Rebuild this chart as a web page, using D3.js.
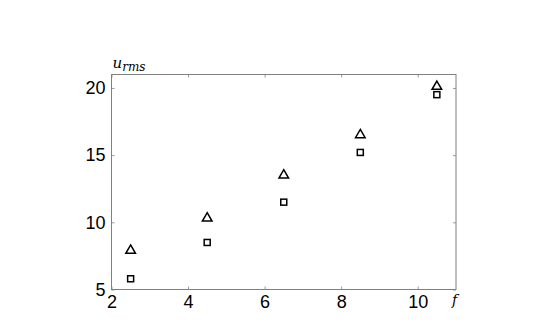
<!DOCTYPE html>
<html>
<head>
<meta charset="utf-8">
<script src="https://cdn.jsdelivr.net/npm/d3@7"></script>
<style>
  body { margin: 0; background: #fff; }
  svg { display: block; }
  .tick text { font-family: "Liberation Sans", Arial, sans-serif; }
</style>
</head>
<body>
<div id="chart"></div>
<script>
var freq = [2.5, 4.5, 6.5, 8.5, 10.5];
var uTriangle = [7.9, 10.3, 13.5, 16.5, 20.1];
var uSquare = [5.8, 8.5, 11.5, 15.2, 19.5];
var xTicks = [2, 4, 6, 8, 10];
var yTicks = [5, 10, 15, 20];

var margin = { top: 74.5, right: 89, bottom: 34.5, left: 111.5 };
var width = 545 - margin.left - margin.right;
var height = 324 - margin.top - margin.bottom;

var svg = d3.select("#chart").append("svg")
    .attr("width", 545)
    .attr("height", 324)
    .append("g")
    .attr("transform", "translate(" + margin.left + "," + margin.top + ")");

var x = d3.scaleLinear().domain([2, 11]).range([0, width]);
var y = d3.scaleLinear().domain([5, 21]).range([height, 0]);

var axisColor = "#808080";

// box + ticks inside
function styleAxis(g, hideText) {
    g.select(".domain").remove();
    g.selectAll(".tick line").attr("stroke", axisColor).attr("stroke-width", 0.8);
    g.selectAll(".tick text").attr("fill", "#000").attr("font-size", 18);
    if (hideText) g.selectAll(".tick text").remove();
}

svg.append("g")
    .attr("transform", "translate(0," + height + ")")
    .call(d3.axisBottom(x).tickValues(xTicks).tickSizeInner(-3).tickSizeOuter(0).tickPadding(6))
    .call(function(g){ styleAxis(g, false); });

svg.append("g")
    .call(d3.axisTop(x).tickValues(xTicks).tickSizeInner(-3).tickSizeOuter(0))
    .call(function(g){ styleAxis(g, true); });

svg.append("g")
    .call(d3.axisLeft(y).tickValues(yTicks).tickSizeInner(-3).tickSizeOuter(0).tickPadding(6))
    .call(function(g){ styleAxis(g, false); });

svg.append("g")
    .attr("transform", "translate(" + width + ",0)")
    .call(d3.axisRight(y).tickValues(yTicks).tickSizeInner(-3).tickSizeOuter(0))
    .call(function(g){ styleAxis(g, true); });

svg.append("rect")
    .attr("x", 0).attr("y", 0)
    .attr("width", width).attr("height", height)
    .attr("fill", "none")
    .attr("stroke", axisColor)
    .attr("stroke-width", 1);

// markers
var tri = d3.symbol().type(d3.symbolTriangle).size(40);
svg.selectAll(".tri")
    .data(freq)
    .enter()
    .append("path")
    .attr("class", "tri")
    .attr("d", tri)
    .attr("transform", function(d, i){ return "translate(" + x(d) + "," + y(uTriangle[i]) + ")"; })
    .attr("fill", "none")
    .attr("stroke", "#000")
    .attr("stroke-width", 1.5);

svg.selectAll(".sq")
    .data(freq)
    .enter()
    .append("rect")
    .attr("class", "sq")
    .attr("x", function(d){ return x(d) - 3; })
    .attr("y", function(d, i){ return y(uSquare[i]) - 3; })
    .attr("width", 6)
    .attr("height", 6)
    .attr("fill", "none")
    .attr("stroke", "#000")
    .attr("stroke-width", 1.5);

// axis labels
var ylab = svg.append("text")
    .attr("x", 1)
    .attr("y", -7)
    .attr("font-family", "'DejaVu Serif', 'Liberation Serif', serif")
    .attr("font-style", "italic")
    .attr("font-size", 15)
    .attr("fill", "#000");
ylab.append("tspan").text("u");
ylab.append("tspan").attr("dy", 3).attr("font-size", 12).text("rms");

svg.append("text")
    .attr("x", width - 4)
    .attr("y", height + 15)
    .attr("font-family", "'DejaVu Serif', 'Liberation Serif', serif")
    .attr("font-style", "italic")
    .attr("font-size", 14)
    .attr("fill", "#000")
    .text("f");
</script>
</body>
</html>
